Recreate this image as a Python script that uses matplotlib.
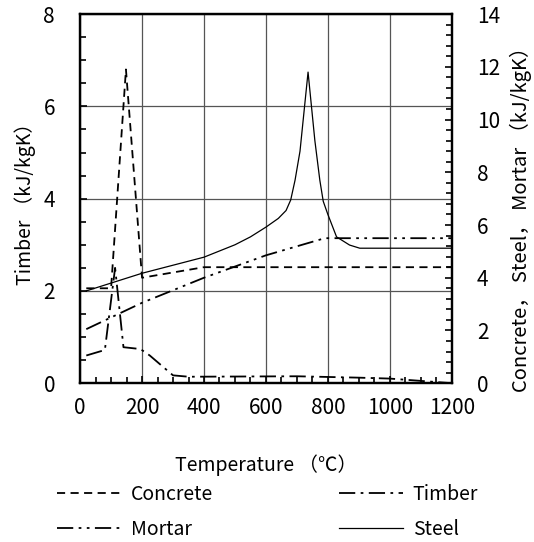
import matplotlib.pyplot as plt
from matplotlib.ticker import MultipleLocator

plt.rcParams['font.family'] = ['Noto Sans CJK JP', 'DejaVu Sans']

# Concrete (right axis)
t_concrete = [20, 100, 148, 200, 400, 1200]
c_concrete = [3.6, 3.6, 11.9, 4.0, 4.4, 4.4]

# Timber (left axis)
t_timber = [20, 80, 113, 140, 195, 225, 300, 350, 700, 900, 1000, 1100, 1200]
c_timber = [0.6, 0.72, 2.5, 0.78, 0.74, 0.6, 0.17, 0.14, 0.15, 0.12, 0.1, 0.05, 0.0]

# Mortar (right axis)
t_mortar = [20, 200, 400, 600, 790, 1200]
c_mortar = [2.05, 3.05, 4.0, 4.85, 5.5, 5.5]

# Steel (right axis)
t_steel = [20, 200, 400, 500, 550, 600, 640, 665, 680, 694, 710, 736,
           758, 774, 785, 800, 828, 870, 903, 1200]
c_steel = [3.5, 4.17, 4.78, 5.25, 5.55, 5.92, 6.25, 6.55, 6.95, 7.7, 8.8, 11.8,
           9.2, 7.7, 6.9, 6.4, 5.55, 5.24, 5.12, 5.12]

fig = plt.figure(figsize=(5.34, 5.42), dpi=100)
ax = fig.add_axes([0.150, 0.293, 0.696, 0.681])
ax2 = ax.twinx()

lc, = ax2.plot(t_concrete, c_concrete, color='black', lw=1.3, dashes=(4.5, 3))
lt, = ax.plot(t_timber, c_timber, color='black', lw=1.3, dashes=(9, 3, 1.5, 3))
lm, = ax2.plot(t_mortar, c_mortar, color='black', lw=1.3, dashes=(9, 3, 1.5, 3, 1.5, 3))
ls, = ax2.plot(t_steel, c_steel, color='black', lw=0.9)

ax.set_xlim(0, 1200)
ax.set_ylim(0, 8)
ax2.set_ylim(0, 14)
ax.xaxis.set_major_locator(MultipleLocator(200))
ax.xaxis.set_minor_locator(MultipleLocator(50))
ax.yaxis.set_major_locator(MultipleLocator(2))
ax.yaxis.set_minor_locator(MultipleLocator(0.5))
ax2.yaxis.set_major_locator(MultipleLocator(2))
ax2.yaxis.set_minor_locator(MultipleLocator(0.4))

ax.grid(True, which='major', color='#555555', lw=0.9)
ax.tick_params(which='both', direction='in', labelsize=15, top=False)
ax.tick_params(which='major', length=5, width=1.2)
ax.tick_params(which='minor', length=4, width=1.2)
ax.tick_params(axis='y', which='major', pad=18)
ax.tick_params(axis='x', which='major', pad=10)
ax2.tick_params(which='both', direction='in', labelsize=15)
ax2.tick_params(which='major', length=5, width=1.2, pad=18)
ax2.tick_params(which='minor', length=4, width=1.2)

for a in (ax, ax2):
    for sp in a.spines.values():
        sp.set_linewidth(1.6)

ax.set_xlabel('Temperature （℃）', fontsize=14, va='center')
ax.xaxis.set_label_coords(0.5, -0.222)
ax.set_ylabel('Timber （kJ/kgK）', fontsize=14, va='center')
ax.yaxis.set_label_coords(-0.148, 0.5)
ax2.set_ylabel('Concrete， Steel， Mortar （kJ/kgK）', fontsize=14.5, va='center')
ax2.yaxis.set_label_coords(1.185, 0.456)

fig.legend([lc, lm, lt, ls], ['Concrete', 'Mortar', 'Timber', 'Steel'],
           loc='upper center', bbox_to_anchor=(0.501, 0.122), ncol=2,
           frameon=False, fontsize=14, handlelength=3.3, columnspacing=6.45,
           labelspacing=0.75, handletextpad=0.5, borderaxespad=0)

fig.savefig('out.png', dpi=100)
